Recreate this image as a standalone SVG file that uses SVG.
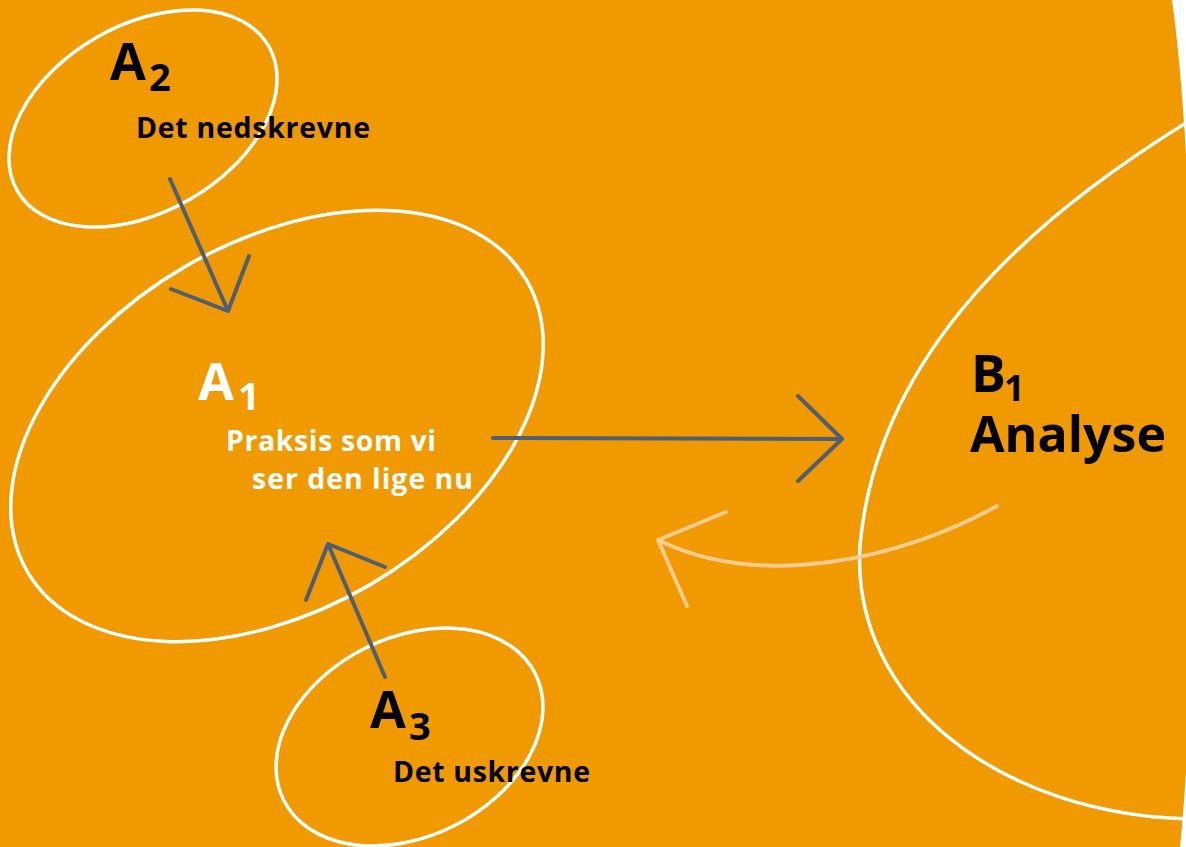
<svg xmlns="http://www.w3.org/2000/svg" width="1186" height="847" viewBox="0 0 1186 847">
<style>
.ring{fill:none;stroke:#fff;stroke-width:3.5}
.lbl{font-family:"Open Sans","Liberation Sans",sans-serif;font-weight:700}
.big{font-size:52px}
.sub{font-size:38px}
.txt{font-size:28.5px}
.dark{fill:#000}
.light{fill:#fff}
.arr{fill:none;stroke:#4f5f73;stroke-width:4;stroke-linecap:round;stroke-linejoin:round}
.back{fill:none;stroke:#fccb8f;stroke-width:4;stroke-linecap:round;stroke-linejoin:round}
</style>
<rect x="0" y="0" width="1186" height="847" fill="#fff"/>
<path d="M0,0 H1172 C1200,200 1200,650 1180,847 H0 Z" fill="#f09a00"/>
<g id="B1">
<path class="ring" d="M1192,119 C1070,195 880,330 860,545 C850,700 1000,815 1192,819"/>
<text class="lbl dark"><tspan class="big" x="971" y="392">B</tspan><tspan x="1004" y="401" style="font-size:36px">1</tspan></text>
<text class="lbl dark" x="970" y="452" style="font-size:50px" textLength="196" lengthAdjust="spacingAndGlyphs">Analyse</text>
</g>
<g id="A2">
<ellipse class="ring" cx="143" cy="118.5" rx="145" ry="93.5" transform="rotate(-29.9 143 118.5)"/>
<text class="lbl dark"><tspan class="big" x="110" y="80">A</tspan><tspan class="sub" x="149" y="91">2</tspan></text>
<text class="lbl dark txt" x="136" y="138" textLength="234" lengthAdjust="spacing">Det nedskrevne</text>
</g>
<g id="A1">
<ellipse class="ring" cx="277" cy="426" rx="289" ry="184" transform="rotate(-30.3 277 426)"/>
<text class="lbl light"><tspan class="big" x="198" y="400">A</tspan><tspan class="sub" x="238" y="410">1</tspan></text>
<text class="lbl light txt" x="226" y="451" textLength="210" lengthAdjust="spacing">Praksis som vi</text>
<text class="lbl light txt" x="252" y="489" textLength="221" lengthAdjust="spacing">ser den lige nu</text>
</g>
<g id="A3">
<ellipse class="ring" cx="409.5" cy="737" rx="140.8" ry="99.3" transform="rotate(-26.7 409.5 737)"/>
<text class="lbl dark"><tspan class="big" x="370" y="728">A</tspan><tspan class="sub" x="409" y="740">3</tspan></text>
<text class="lbl dark txt" x="393" y="782" textLength="197" lengthAdjust="spacing">Det uskrevne</text>
</g>
<g id="connectors">
<path class="arr" d="M170,179 L228,311 M171,289 L228,311 L249,256"/>
<path class="arr" d="M385,677 L328,544 M306,600 L328,544 L385,567"/>
<path class="arr" d="M493,438 L842,439 M798,396 L842,439 L798,481"/>
<path class="back" d="M997,506 C900,560 760,590 658,540 M726,512 L658,540 L687,606"/>
</g>
</svg>
